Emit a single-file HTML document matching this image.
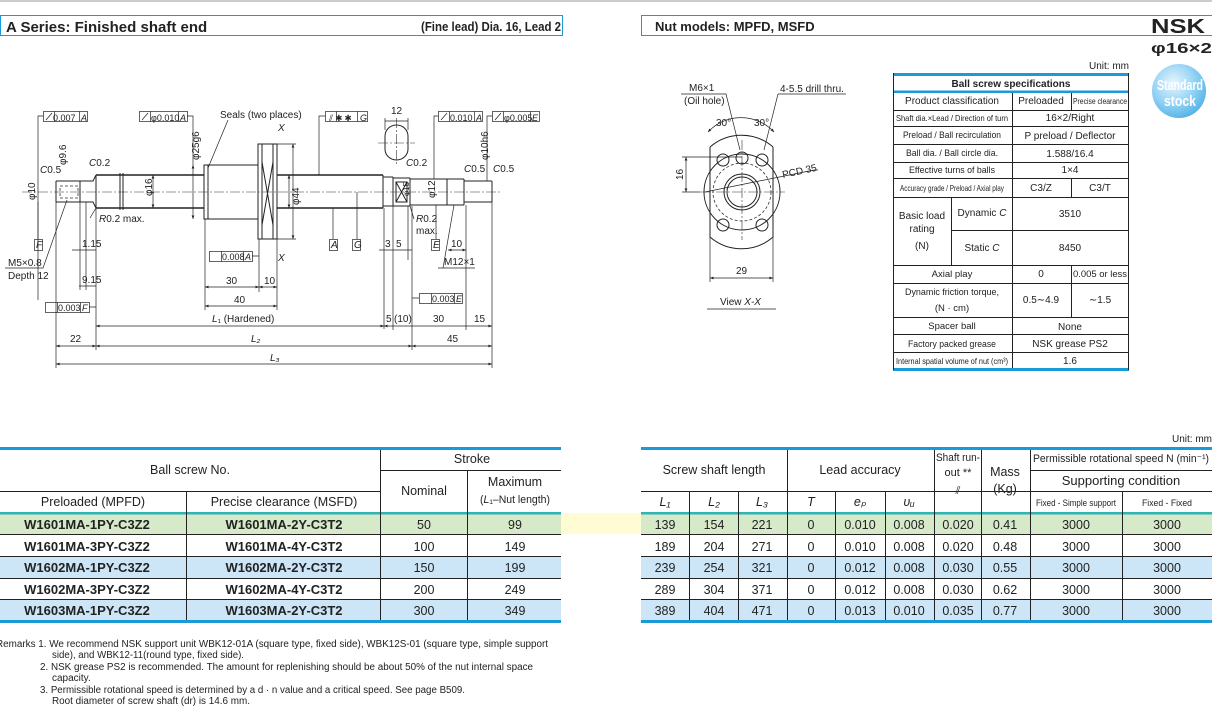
<!DOCTYPE html>
<html><head><meta charset="utf-8"><style>
html,body{margin:0;padding:0;background:#fff;}
svg{display:block;font-family:"Liberation Sans Narrow","Liberation Sans",sans-serif;}
.l{stroke:#222;stroke-width:1;fill:none}
.t{stroke:#222;stroke-width:0.7;fill:none}
.c{stroke:#333;stroke-width:0.6;fill:none;stroke-dasharray:10 2 2 2}
.d{stroke:#333;stroke-width:0.8;fill:none;stroke-dasharray:3 2}
text{fill:#222}
.s{font-size:10px}
.tb{font-size:12px;font-family:"Liberation Sans",sans-serif}
</style></head><body>
<svg width="1212" height="719" viewBox="0 0 1212 719" xmlns="http://www.w3.org/2000/svg">
<defs>
<marker id="a" markerWidth="6" markerHeight="6" refX="5" refY="3" orient="auto-start-reverse"><path d="M0,1 L5,3 L0,5 z" fill="#222"/></marker>
<radialGradient id="g" cx="40%" cy="35%" r="70%"><stop offset="0" stop-color="#e8f6fe"/><stop offset="0.6" stop-color="#8fd0f4"/><stop offset="1" stop-color="#4fb0e6"/></radialGradient>
</defs>
<rect x="0" y="0" width="1212" height="2" fill="#ccc"/>
<rect x="0.5" y="15.5" width="562" height="20" fill="none" stroke="#1a9ad6"/>
<text x="6" y="32" style="font-family:'Liberation Sans',sans-serif;font-weight:bold;font-size:15px">A Series: Finished shaft end</text>
<text x="561" y="31" text-anchor="end" style="font-weight:bold;font-size:12.5px" textLength="140" lengthAdjust="spacingAndGlyphs">(Fine lead)   Dia. 16, Lead 2</text>
<path d="M1212,15.5 H641.5 V35.5 H1212" fill="none" stroke="#1a9ad6"/>
<text x="655" y="31" style="font-family:'Liberation Sans',sans-serif;font-weight:bold;font-size:13px">Nut models: MPFD, MSFD</text>
<text x="1151" y="33" style="font-family:'Liberation Sans',sans-serif;font-weight:900;font-size:20px" textLength="54" lengthAdjust="spacingAndGlyphs">NSK</text>
<text x="1151" y="53" style="font-family:'Liberation Sans',sans-serif;font-weight:bold;font-size:15px" textLength="61" lengthAdjust="spacingAndGlyphs">φ16×2</text>
<circle cx="1179" cy="91" r="27" fill="url(#g)"/>
<text x="1180" y="90" text-anchor="middle" style="font-weight:bold;font-size:15px;fill:#fff" textLength="46" lengthAdjust="spacingAndGlyphs">Standard</text>
<text x="1180" y="106" text-anchor="middle" style="font-weight:bold;font-size:15px;fill:#fff" textLength="32" lengthAdjust="spacingAndGlyphs">stock</text>

<text x="1129" y="69" text-anchor="end" class="s">Unit: mm</text>
<rect x="893" y="73" width="236" height="3" fill="#1a9ad6"/>
<rect x="893" y="90.5" width="236" height="2.5" fill="#1a9ad6"/>
<rect x="893" y="368" width="236" height="3" fill="#1a9ad6"/>
<g class="l" stroke-width="0.9">
<path d="M893.5,73 V370 M1128.5,73 V370"/>
<path d="M893,110.5H1129 M893,126.5H1129 M893,144.5H1129 M893,162.5H1129 M893,178.5H1129 M893,197.5H1129 M951,230.5H1129 M893,265.5H1129 M893,283.5H1129 M893,317.5H1129 M893,334.5H1129 M893,352.5H1129"/>
<path d="M1012.5,93V368 M1071.5,93V110 M1071.5,178V197 M1071.5,265V317 M951.5,197V265"/>
</g>
<text x="1011" y="87" text-anchor="middle" style="font-family:'Liberation Sans',sans-serif;font-weight:bold;font-size:10px">Ball screw specifications</text>
<g style="font-size:10px" text-anchor="middle">
<text x="952" y="104">Product classification</text>
<text x="1041" y="104">Preloaded</text>
<text x="1100" y="104" style="font-size:8px" textLength="54" lengthAdjust="spacingAndGlyphs">Precise clearance</text>
<text x="952" y="121" style="font-size:8.5px" textLength="112" lengthAdjust="spacingAndGlyphs">Shaft dia.×Lead / Direction of turn</text>
<text x="1070" y="121">16×2/Right</text>
<text x="952" y="138" style="font-size:9.5px" textLength="98" lengthAdjust="spacingAndGlyphs">Preload / Ball recirculation</text>
<text x="1070" y="139">P preload / Deflector</text>
<text x="952" y="156" style="font-size:9.5px" textLength="92" lengthAdjust="spacingAndGlyphs">Ball dia. / Ball circle dia.</text>
<text x="1070" y="157">1.588/16.4</text>
<text x="952" y="173" style="font-size:9.5px" textLength="86" lengthAdjust="spacingAndGlyphs">Effective turns of balls</text>
<text x="1070" y="173">1×4</text>
<text x="952" y="191" style="font-size:8.5px" textLength="104" lengthAdjust="spacingAndGlyphs">Accuracy grade / Preload / Axial play</text>
<text x="1041" y="191">C3/Z</text>
<text x="1100" y="191">C3/T</text>
<text x="922" y="219">Basic load</text>
<text x="922" y="232">rating</text>
<text x="922" y="249">(N)</text>
<text x="982" y="216">Dynamic <tspan font-style="italic">C</tspan></text>
<text x="982" y="251">Static <tspan font-style="italic">C</tspan></text>
<text x="1070" y="217">3510</text>
<text x="1070" y="251">8450</text>
<text x="952" y="277" style="font-size:9.5px">Axial play</text>
<text x="1041" y="277">0</text>
<text x="1100" y="277" style="font-size:9.5px" textLength="54" lengthAdjust="spacingAndGlyphs">0.005 or less</text>
<text x="952" y="295" style="font-size:9.5px" textLength="94" lengthAdjust="spacingAndGlyphs">Dynamic friction torque,</text>
<text x="952" y="311" style="font-size:9.5px">(N · cm)</text>
<text x="1041" y="303">0.5∼4.9</text>
<text x="1100" y="303">∼1.5</text>
<text x="952" y="329" style="font-size:9.5px">Spacer ball</text>
<text x="1070" y="330">None</text>
<text x="952" y="347" style="font-size:9.5px" textLength="88" lengthAdjust="spacingAndGlyphs">Factory packed grease</text>
<text x="1070" y="347">NSK grease PS2</text>
<text x="952" y="364" style="font-size:8.5px" textLength="112" lengthAdjust="spacingAndGlyphs">Internal spatial volume of nut (cm³)</text>
<text x="1070" y="364">1.6</text>
</g>

<g class="l">
<path d="M56,181 H80 M56,202 H80 M56,181 V202"/>
<path d="M80,181 L80,202 M80,181 H93 L96,175 M80,202 H93 L96,208"/>
<path d="M96,175 V208"/>
<path d="M96,175 H204 M96,208 H204" stroke-width="1.4"/>
<path d="M120,173 V210 M123,173 V210"/>
<path d="M204,165 H258 V219 H204 Z"/>
<path d="M208,165 V219"/>
<path d="M258,144 H277 V239 H258 Z"/>
<path d="M262,144 V239 M273,144 V239"/>
<path d="M262,162 L273,225 M273,162 L262,225"/>
<path d="M277,175 H383 M277,208 H383" stroke-width="1.4"/>
<path d="M383,175 V208 M383,177 H393 M383,206 H393 M393,177 V206"/>
<path d="M393,178 H410 M393,206 H410 M410,178 V206"/>
<path d="M396,182 H407 V202 H396 Z M396,182 L407,202 M407,182 L396,202"/>
<path d="M410,179 H464 M410,205 H464 M447,179 V205 M464,179 V205"/>
<path d="M464,181 H492 M464,202 H492 M492,181 V202"/>
<path d="M385,136 A11.5,11 0 0 1 408,136 V149 A11.5,11 0 0 1 385,149 Z"/>
</g>
<path class="c" d="M22,192 H500 M396.5,118 V166 M378,143 H415"/>
<path class="d" d="M60,186 H78 V198 H60 Z M208,170 V215"/>
<g class="t">
<rect x="43.5" y="111.5" width="44" height="10"/><path d="M54.5,111.5V121.5 M79.5,111.5V121.5 M46,120 L52,113"/>
<path d="M43,116 H38 V300"/>
<rect x="139.5" y="111.5" width="48" height="10"/><path d="M150.5,111.5V121.5 M178.5,111.5V121.5 M142,120 L148,113"/>
<path d="M187,116 H193 V165"/>
<rect x="325.5" y="111.5" width="42" height="10"/><path d="M336.5,111.5V121.5 M357.5,111.5V121.5"/>
<path d="M325,116 H319 V175"/>
<rect x="438.5" y="111.5" width="44" height="10"/><path d="M449.5,111.5V121.5 M474.5,111.5V121.5 M441,120 L447,113"/>
<path d="M438,116 H434 V179"/>
<rect x="492.5" y="111.5" width="47" height="10"/><path d="M503.5,111.5V121.5 M530.5,111.5V121.5 M495,120 L501,113"/>
<path d="M492,116 H487 V181"/>
<path d="M228,120 L208,168"/>
<path d="M38,202 V239 M333,208 V239 M357,192 V239 M436,205 V239"/>
<rect x="34.5" y="239.5" width="8" height="11"/><rect x="329.5" y="239.5" width="8" height="11"/><rect x="352.5" y="239.5" width="8" height="11"/><rect x="431.5" y="239.5" width="8" height="11"/>
<path d="M56,202 V368 M96,208 V350 M80,202 V290 M86,202 V290 M205,219 V310 M259,239 V292 M277,239 V310 M384,208 V329 M393,206 V330 M412,206 V350 M466,205 V330 M492,202 V368 M408,206 V260"/>
<path d="M293,144 V239" marker-start="url(#a)" marker-end="url(#a)"/>
<path d="M277,144 H296 M277,239 H296"/>
<path d="M193,165 V219" marker-start="url(#a)" marker-end="url(#a)"/>
<path d="M153,175 V208" marker-start="url(#a)" marker-end="url(#a)"/>
<path d="M289,175 V208" marker-start="url(#a)" marker-end="url(#a)"/>
<path d="M385,118 V130 M408,118 V130 M385,121 H408"/>
<path d="M205,287 H259" marker-start="url(#a)" marker-end="url(#a)"/>
<path d="M259,287 H277" marker-start="url(#a)" marker-end="url(#a)"/>
<path d="M205,306 H277" marker-start="url(#a)" marker-end="url(#a)"/>
<path d="M96,326 H384" marker-start="url(#a)" marker-end="url(#a)"/>
<path d="M384,326 H393 M393,326 H412 M412,326 H466 M466,326 H492" marker-start="url(#a)" marker-end="url(#a)"/>
<path d="M56,346 H96" marker-start="url(#a)" marker-end="url(#a)"/>
<path d="M96,346 H412" marker-start="url(#a)" marker-end="url(#a)"/>
<path d="M412,346 H492" marker-start="url(#a)" marker-end="url(#a)"/>
<path d="M56,364 H492" marker-start="url(#a)" marker-end="url(#a)"/>
<path d="M379,250 H412"/>
<path d="M448,250 H466" marker-start="url(#a)" marker-end="url(#a)"/>
<path d="M72,250 H96 M79,286 H96"/>
<rect x="209.5" y="251.5" width="43" height="10"/><path d="M221.5,251.5V261.5 M243.5,251.5V261.5 M252,256 H259"/>
<rect x="45.5" y="302.5" width="44" height="10"/><path d="M57.5,302.5V312.5 M80.5,302.5V312.5 M89,307 H96"/>
<rect x="419.5" y="293.5" width="43" height="10"/><path d="M431.5,293.5V303.5 M454.5,293.5V303.5 M412,298 H419"/>
<path d="M5,268 H43 L67,200"/>
<path d="M438,268 H475 M443,268 L454,205"/>
<path d="M90,218 L96,208"/>
<path d="M414,219 L410,206"/>
</g>
<g class="s">
<text x="53" y="121" style="font-size:9px">0.007</text><text x="81" y="121" style="font-size:9px;font-style:italic">A</text>
<text x="151" y="121" style="font-size:9px">φ0.010</text><text x="180" y="121" style="font-size:9px;font-style:italic">A</text>
<text x="329" y="121" style="font-size:9px">⫽ ✱ ✱</text><text x="360" y="121" style="font-size:9px;font-style:italic">G</text>
<text x="450" y="121" style="font-size:9px">0.010</text><text x="476" y="121" style="font-size:9px;font-style:italic">A</text>
<text x="504" y="121" style="font-size:9px">φ0.005</text><text x="532" y="121" style="font-size:9px;font-style:italic">E</text>
<text x="220" y="118">Seals (two places)</text>
<text x="278" y="131" font-style="italic">X</text><text x="278" y="261" font-style="italic">X</text>
<text x="40" y="173"><tspan font-style="italic">C</tspan>0.5</text>
<text x="89" y="166"><tspan font-style="italic">C</tspan>0.2</text>
<text x="406" y="166"><tspan font-style="italic">C</tspan>0.2</text>
<text x="464" y="172"><tspan font-style="italic">C</tspan>0.5</text>
<text x="493" y="172"><tspan font-style="italic">C</tspan>0.5</text>
<text x="99" y="222"><tspan font-style="italic">R</tspan>0.2 max.</text>
<text x="416" y="222"><tspan font-style="italic">R</tspan>0.2</text><text x="416" y="234">max.</text>
<text x="36" y="248" font-style="italic">F</text><text x="331" y="248" font-style="italic">A</text><text x="354" y="248" font-style="italic">G</text><text x="433" y="248" font-style="italic">E</text>
<text x="8" y="266">M5×0.8</text><text x="8" y="279">Depth 12</text>
<text x="82" y="247">1.15</text><text x="82" y="283">9.15</text>
<text x="222" y="260" style="font-size:9px">0.008</text><text x="245" y="260" style="font-size:9px;font-style:italic">A</text>
<text x="58" y="311" style="font-size:9px">0.003</text><text x="82" y="311" style="font-size:9px;font-style:italic">F</text>
<text x="432" y="302" style="font-size:9px">0.003</text><text x="456" y="302" style="font-size:9px;font-style:italic">E</text>
<text x="226" y="284">30</text><text x="264" y="284">10</text><text x="234" y="303">40</text>
<text x="212" y="322"><tspan font-style="italic">L</tspan>₁ (Hardened)</text>
<text x="386" y="322">5</text><text x="394" y="322">(10)</text><text x="433" y="322">30</text><text x="474" y="322">15</text>
<text x="70" y="342">22</text><text x="251" y="342" font-style="italic">L₂</text><text x="447" y="342">45</text>
<text x="270" y="361" font-style="italic">L₃</text>
<text x="385" y="247">3</text><text x="396" y="247">5</text><text x="451" y="247">10</text>
<text x="444" y="265">M12×1</text>
<text x="391" y="114">12</text>
<text transform="translate(152,196) rotate(-90)">φ16</text>
<text transform="translate(299,205) rotate(-90)">φ44</text>
<text transform="translate(199,160) rotate(-90)">φ25g6</text>
<text transform="translate(35,200) rotate(-90)">φ10</text>
<text transform="translate(66,165) rotate(-90)">φ9.6</text>
<text transform="translate(409,196) rotate(-90)" style="font-size:8px">φ15</text>
<text transform="translate(435,198) rotate(-90)">φ12</text>
<text transform="translate(488,160) rotate(-90)">φ10h6</text>
</g>

<g class="l">
<path d="M710,147 A48,48 0 0 1 773,147 M710,237 A48,48 0 0 0 773,237 M710,147 V237 M773,147 V237"/>
<circle cx="742" cy="192" r="38"/>
<circle cx="742" cy="192" r="18"/><circle cx="742" cy="192" r="15"/>
<circle cx="723" cy="160" r="6"/><circle cx="762" cy="160" r="6"/><circle cx="723" cy="225" r="6"/><circle cx="762" cy="225" r="6"/>
<circle cx="742" cy="158" r="6"/>
</g>
<circle cx="742" cy="192" r="29" class="d"/>
<path class="c" d="M742,140 V240 M700,192 H785"/>
<g class="t">
<path d="M686,157 V192" marker-start="url(#a)" marker-end="url(#a)"/>
<path d="M682,157 H742 M682,192 H700"/>
<path d="M710,237 V282 M773,237 V282"/>
<path d="M710,278 H773" marker-start="url(#a)" marker-end="url(#a)"/>
<path d="M707,309 H776"/>
<path d="M681,94 H726 L740,150"/>
<path d="M778,94 H846 M778,94 L764,150"/>
<path d="M708,132 A45,45 0 0 1 774,132" marker-start="url(#a)" marker-end="url(#a)"/>
<path d="M705,192 L814,170 H818"/>
</g>
<g class="s">
<text x="689" y="91">M6×1</text><text x="684" y="104">(Oil hole)</text>
<text x="780" y="92">4-5.5 drill thru.</text>
<text x="716" y="126">30°</text><text x="754" y="126">30°</text>
<text transform="translate(783,178) rotate(-12)">PCD 35</text>
<text transform="translate(683,180) rotate(-90)">16</text>
<text x="736" y="274">29</text>
<text x="720" y="305">View <tspan font-style="italic">X-X</tspan></text>
</g>

<text x="1212" y="442" text-anchor="end" class="s">Unit: mm</text>
<rect x="0" y="513" width="561" height="21" fill="#d6eac9"/>
<rect x="561" y="513" width="80" height="21" fill="#fffbd3"/>
<rect x="641" y="513" width="571" height="21" fill="#d6eac9"/>
<rect x="0" y="556" width="561" height="22" fill="#cce6f7"/>
<rect x="641" y="556" width="571" height="22" fill="#cce6f7"/>
<rect x="0" y="599" width="561" height="22" fill="#cce6f7"/>
<rect x="641" y="599" width="571" height="22" fill="#cce6f7"/>
<rect x="0" y="447" width="561" height="3" fill="#1a9ad6"/>
<rect x="641" y="447" width="571" height="3" fill="#1a9ad6"/>
<rect x="0" y="512" width="561" height="2.5" fill="#2fb3b3"/>
<rect x="641" y="512" width="571" height="2.5" fill="#2fb3b3"/>
<rect x="0" y="620" width="561" height="3" fill="#1a9ad6"/>
<rect x="641" y="620" width="571" height="3" fill="#1a9ad6"/>
<g class="l" stroke-width="0.9">
<path d="M380,470.5H561 M0,491.5H380 M0,534.5H561 M0,556.5H561 M0,578.5H561 M0,599.5H561"/>
<path d="M186.5,491V620 M380.5,450V620 M467.5,470V620"/>
<path d="M641,491.5H1030 M1030,470.5H1212 M1030,491.5H1212 M641,534.5H1212 M641,556.5H1212 M641,578.5H1212 M641,599.5H1212"/>
<path d="M787.5,450V620 M934.5,450V620 M981.5,450V620 M1030.5,450V620 M689.5,491V620 M738.5,491V620 M835.5,491V620 M885.5,491V620 M1122.5,491V620"/>
</g>
<g class="tb" text-anchor="middle" style="font-size:12.5px">
<text x="190" y="474">Ball screw No.</text>
<text x="472" y="463">Stroke</text>
<text x="424" y="495">Nominal</text>
<text x="515" y="486">Maximum</text>
<text x="515" y="503" style="font-size:11px" textLength="70" lengthAdjust="spacingAndGlyphs">(<tspan font-style="italic">L</tspan>₁–Nut length)</text>
<text x="93" y="506">Preloaded (MPFD)</text>
<text x="284" y="506">Precise clearance (MSFD)</text>
<text x="714" y="474">Screw shaft length</text>
<text x="860" y="474">Lead accuracy</text>
<text x="958" y="461" style="font-size:11px" textLength="44" lengthAdjust="spacingAndGlyphs">Shaft run-</text>
<text x="958" y="476" style="font-size:11px">out **</text>
<text x="958" y="494" style="font-size:11px">⫽</text>
<text x="1005" y="476">Mass</text><text x="1005" y="493">(Kg)</text>
<text x="1121" y="462" style="font-size:11px" textLength="176" lengthAdjust="spacingAndGlyphs">Permissible rotational speed N (min⁻¹)</text>
<text x="1121" y="485" style="font-size:13px">Supporting condition</text>
<text x="1076" y="506" style="font-size:9.5px" textLength="80" lengthAdjust="spacingAndGlyphs">Fixed - Simple support</text>
<text x="1167" y="506" style="font-size:9.5px" textLength="50" lengthAdjust="spacingAndGlyphs">Fixed - Fixed</text>
<g font-style="italic"><text x="665" y="506">L₁</text><text x="714" y="506">L₂</text><text x="762" y="506">L₃</text><text x="811" y="506">T</text><text x="860" y="506">eₚ</text><text x="909" y="506">υᵤ</text></g>
</g>
<g class="tb" text-anchor="middle" style="font-size:12.5px">
<g font-weight="bold" style="font-size:13px">
<text x="87" y="529">W1601MA-1PY-C3Z2</text><text x="284" y="529">W1601MA-2Y-C3T2</text>
<text x="87" y="551">W1601MA-3PY-C3Z2</text><text x="284" y="551">W1601MA-4Y-C3T2</text>
<text x="87" y="572">W1602MA-1PY-C3Z2</text><text x="284" y="572">W1602MA-2Y-C3T2</text>
<text x="87" y="594">W1602MA-3PY-C3Z2</text><text x="284" y="594">W1602MA-4Y-C3T2</text>
<text x="87" y="615">W1603MA-1PY-C3Z2</text><text x="284" y="615">W1603MA-2Y-C3T2</text>
</g>
<text x="424" y="529">50</text><text x="515" y="529">99</text>
<text x="424" y="551">100</text><text x="515" y="551">149</text>
<text x="424" y="572">150</text><text x="515" y="572">199</text>
<text x="424" y="594">200</text><text x="515" y="594">249</text>
<text x="424" y="615">300</text><text x="515" y="615">349</text>
<text x="665" y="529">139</text><text x="714" y="529">154</text><text x="762" y="529">221</text><text x="811" y="529">0</text><text x="860" y="529">0.010</text><text x="909" y="529">0.008</text><text x="958" y="529">0.020</text><text x="1005" y="529">0.41</text><text x="1076" y="529">3000</text><text x="1167" y="529">3000</text>
<text x="665" y="551">189</text><text x="714" y="551">204</text><text x="762" y="551">271</text><text x="811" y="551">0</text><text x="860" y="551">0.010</text><text x="909" y="551">0.008</text><text x="958" y="551">0.020</text><text x="1005" y="551">0.48</text><text x="1076" y="551">3000</text><text x="1167" y="551">3000</text>
<text x="665" y="572">239</text><text x="714" y="572">254</text><text x="762" y="572">321</text><text x="811" y="572">0</text><text x="860" y="572">0.012</text><text x="909" y="572">0.008</text><text x="958" y="572">0.030</text><text x="1005" y="572">0.55</text><text x="1076" y="572">3000</text><text x="1167" y="572">3000</text>
<text x="665" y="594">289</text><text x="714" y="594">304</text><text x="762" y="594">371</text><text x="811" y="594">0</text><text x="860" y="594">0.012</text><text x="909" y="594">0.008</text><text x="958" y="594">0.030</text><text x="1005" y="594">0.62</text><text x="1076" y="594">3000</text><text x="1167" y="594">3000</text>
<text x="665" y="615">389</text><text x="714" y="615">404</text><text x="762" y="615">471</text><text x="811" y="615">0</text><text x="860" y="615">0.013</text><text x="909" y="615">0.010</text><text x="958" y="615">0.035</text><text x="1005" y="615">0.77</text><text x="1076" y="615">3000</text><text x="1167" y="615">3000</text>
</g>

<g style="font-size:10px">
<text x="-4" y="647" textLength="552" lengthAdjust="spacingAndGlyphs">Remarks   1. We recommend NSK support unit WBK12-01A (square type, fixed side), WBK12S-01 (square type, simple support</text>
<text x="52" y="658" textLength="192" lengthAdjust="spacingAndGlyphs">side), and WBK12-11(round type, fixed side).</text>
<text x="40" y="670" textLength="493" lengthAdjust="spacingAndGlyphs">2. NSK grease PS2 is recommended. The amount for replenishing should be about 50% of the nut internal space</text>
<text x="52" y="681">capacity.</text>
<text x="40" y="693" textLength="425" lengthAdjust="spacingAndGlyphs">3. Permissible rotational speed is determined by a d · n value and a critical speed. See page B509.</text>
<text x="52" y="704" textLength="198" lengthAdjust="spacingAndGlyphs">Root diameter of screw shaft (dr) is 14.6 mm.</text>
</g>
</svg>
</body></html>
